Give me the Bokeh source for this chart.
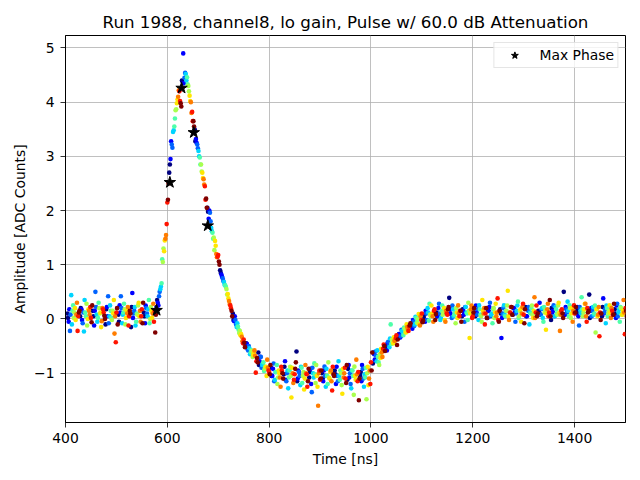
import numpy as np
from bokeh.plotting import figure
from bokeh.models import ColumnDataSource, FixedTicker, Range1d
from bokeh.embed import file_html
from bokeh.resources import INLINE

# ---------------- data ----------------
title_text = "Run 1988, channel8, lo gain, Pulse w/ 60.0 dB Attenuation"
x_label = "Time [ns]"
y_label = "Amplitude [ADC Counts]"
x_ticks = [400, 600, 800, 1000, 1200, 1400]
y_ticks = [-1, 0, 1, 2, 3, 4, 5]

first_sample_ns = 403.75   # time of phase 0 in the first 25 ns sample
sample_period_ns = 25.0
phase_step_ns = 2.5
n_phases = 10
event_b_shift_ns = 1.25

# amplitude [ADC counts]; one row per 25 ns sample, one column per phase (event A)
pre_pulse = [
    [0.10, -0.05, -0.22, 0.44, 0.15, 0.02, 0.20, 0.08, -0.22, 0.12],
    [0.05, 0.18, -0.08, -0.23, 0.12, 0.28, 0.00, 0.15, 0.22, -0.06],
    [0.15, -0.12, 0.50, 0.08, 0.02, 0.20, 0.12, -0.04, 0.18, 0.06],
    [-0.10, 0.22, 0.42, 0.05, 0.15, -0.02, 0.10, -0.27, -0.43, 0.20],
    [0.08, 0.25, 0.42, -0.08, 0.12, 0.18, 0.02, 0.10, -0.12, 0.15],
    [-0.15, 0.48, 0.10, 0.22, -0.05, 0.08, 0.30, 0.15, 0.05, -0.08],
    [0.12, -0.08, 0.20, 0.05, 0.35, 0.00, 0.15, 0.10, -0.05, -0.25],
]
pulse = [
    [0.22, 0.30, 0.42, 0.55, 0.66, 1.05, 1.25, 1.48, 1.75, 2.20],
    [2.70, 2.95, 3.22, 3.45, 3.55, 3.85, 3.98, 4.10, 4.20, 3.98],
    [4.40, 4.90, 4.45, 4.52, 4.46, 4.30, 4.12, 4.00, 3.82, 3.65],
    [3.50, 3.32, 3.22, 3.10, 2.98, 2.85, 2.70, 2.58, 2.45, 2.22],
    [2.05, 1.85, 1.96, 1.68, 1.59, 1.50, 1.44, 1.20, 1.15, 1.06],
    [0.90, 0.82, 0.75, 0.68, 0.62, 0.55, 0.46, 0.33, 0.25, 0.15],
    [0.10, -0.04, -0.02, -0.15, -0.14, -0.26, -0.30, -0.33, -0.45, -0.44],
    [-0.50, -0.46, -0.58, -0.54, -0.62, -0.59, -0.66, -0.58, -0.99, -0.72],
    [-0.62, -0.78, -0.70, -0.85, -0.80, -0.92, -0.88, -0.75, -0.95, -1.02],
]
trough = [
    [-0.90, -1.05, -0.82, -1.12, -0.98, -1.20, -0.95, -1.08, -0.88, -1.00],
    [-1.02, -0.78, -1.15, -0.95, -1.08, -0.88, -1.45, -1.00, -1.12, -0.92],
    [-0.60, -1.10, -0.98, -1.22, -0.90, -1.05, -1.30, -0.85, -1.02, -1.15],
    [-1.08, -0.92, -1.35, -1.00, -0.82, -1.18, -1.05, -1.60, -0.95, -1.10],
    [-1.00, -1.15, -0.88, -1.25, -1.05, -0.80, -1.10, -0.95, -1.32, -1.02],
    [-0.95, -1.20, -1.05, -0.78, -1.12, -1.00, -1.38, -1.08, -0.90, -1.18],
    [-1.12, -0.85, -1.00, -1.28, -0.95, -1.40, -1.05, -0.75, -1.15, -1.50],
    [-1.05, -1.15, -0.92, -1.25, -1.08, -1.48, -0.88, -1.10, -1.20, -0.95],
]
recovery = [
    [-0.82, -0.65, -0.60, -0.78, -0.70, -0.85, -0.72, -0.62, -0.55, -0.50],
    [-0.48, -0.58, -0.42, -0.52, -0.10, -0.38, -0.45, -0.40, -0.35, -0.48],
    [-0.35, -0.28, -0.32, -0.22, -0.30, -0.18, -0.25, -0.15, -0.22, -0.12],
    [-0.12, -0.18, -0.05, -0.10, 0.02, -0.08, 0.09, -0.12, -0.02, -0.06],
    [0.02, -0.05, 0.10, 0.20, -0.03, 0.08, 0.25, 0.05, 0.15, -0.02],
    [0.12, 0.05, 0.28, -0.02, 0.15, 0.08, 0.20, -0.05, 0.10, 0.18],
    [0.39, 0.10, 0.02, 0.18, 0.08, -0.08, 0.12, 0.25, 0.05, 0.15],
]
post_pulse = [
    [0.05, 0.15, -0.05, 0.22, 0.10, 0.30, -0.35, 0.18, 0.02, 0.12],
    [0.12, 0.25, 0.08, -0.02, 0.18, 0.05, 0.35, 0.10, -0.10, 0.20],
    [0.02, 0.15, 0.30, 0.08, -0.08, 0.20, 0.12, 0.05, 0.38, -0.05],
    [0.18, -0.35, 0.10, 0.25, 0.05, 0.15, 0.52, -0.02, 0.12, 0.22],
    [0.08, 0.20, -0.05, 0.15, 0.32, 0.05, 0.18, 0.10, 0.28, -0.08],
    [0.22, 0.05, 0.15, -0.10, 0.10, 0.25, 0.02, 0.40, 0.12, 0.05],
    [0.15, 0.30, 0.08, 0.20, -0.05, 0.12, -0.20, 0.18, 0.05, 0.35],
    [-0.02, 0.12, 0.25, 0.05, 0.18, 0.08, 0.30, -0.22, 0.15, 0.10],
    [0.50, 0.08, 0.18, 0.32, 0.05, 0.20, 0.10, -0.05, 0.25, 0.12],
    [0.10, 0.22, -0.12, 0.15, 0.40, 0.05, 0.18, 0.28, -0.05, 0.12],
    [0.45, 0.15, 0.05, 0.22, 0.10, -0.25, 0.18, 0.08, -0.32, -0.02],
    [0.05, 0.38, 0.12, -0.08, 0.20, 0.10, 0.25, 0.02, 0.15, 0.08],
    [0.18, 0.02, 0.28, 0.12, -0.05, 0.20, 0.08, 0.35, -0.28, 0.15],
]

# second event, sampled 1.25 ns later than event A
pre_pulse_b = [
    [0.02, 0.18, 0.08, -0.10, 0.25, 0.12, -0.02, 0.30, 0.05, 0.15],
    [0.20, -0.02, 0.12, 0.35, 0.05, -0.12, 0.18, 0.08, 0.02, 0.25],
    [0.05, 0.15, 0.22, -0.05, 0.30, 0.10, -0.15, 0.20, 0.12, 0.00],
    [0.18, 0.05, -0.08, 0.25, 0.02, 0.15, 0.35, 0.05, 0.12, -0.10],
    [-0.05, 0.12, 0.20, 0.08, 0.28, -0.10, 0.15, 0.22, 0.05, 0.10],
    [0.22, 0.02, 0.15, -0.12, 0.10, 0.25, 0.05, -0.05, 0.18, 0.30],
    [0.05, 0.25, 0.10, 0.18, -0.08, 0.22, 0.02, 0.28, 0.15, 0.08],
]
pulse_b = [
    [0.35, 0.25, 0.50, 0.60, 1.10, 1.30, 1.45, 1.55, 2.15, 2.50],
    [2.85, 3.28, 3.16, 3.48, 3.70, 3.87, 4.05, 4.22, 4.02, 3.92],
    [4.38, 4.35, 4.54, 4.40, 4.33, 4.20, 4.02, 3.80, 3.65, 3.55],
    [3.28, 3.25, 3.15, 3.00, 2.85, 2.72, 2.60, 2.48, 2.20, 2.05],
    [1.98, 2.00, 1.80, 1.62, 1.48, 1.27, 1.35, 1.14, 1.18, 1.00],
    [0.85, 0.78, 0.70, 0.63, 0.59, 0.45, 0.38, 0.27, 0.20, 0.05],
    [-0.02, 0.05, -0.10, -0.08, -0.20, -0.22, -0.28, -0.41, -0.38, -0.52],
    [-0.45, -0.55, -0.50, -0.65, -0.58, -0.70, -0.62, -0.68, -0.78, -0.80],
    [-0.85, -0.70, -0.90, -0.82, -0.96, -0.88, -1.05, -0.90, -0.98, -0.85],
]
trough_b = [
    [-1.05, -0.92, -1.15, -0.98, -0.85, -1.08, -1.00, -1.25, -0.95, -1.10],
    [-0.88, -1.12, -1.00, -1.28, -0.95, -1.05, -0.90, -1.18, -1.02, -0.80],
    [-1.15, -0.95, -1.05, -0.88, -1.18, -0.98, -1.10, -1.00, -1.25, -0.92],
    [-0.98, -1.20, -0.90, -1.08, -1.02, -0.85, -1.25, -1.00, -1.12, -0.95],
    [-1.10, -0.95, -1.05, -0.92, -1.20, -1.08, -0.98, -1.15, -0.88, -1.05],
    [-1.02, -0.88, -1.15, -1.05, -0.95, -1.22, -0.92, -1.00, -1.10, -0.85],
    [-0.92, -1.08, -1.20, -0.95, -1.05, -0.88, -1.12, -1.02, -0.98, -1.10],
    [-0.98, -0.85, -1.10, -1.02, -0.90, -1.00, -1.22, -0.95, -0.80, -0.62],
]
recovery_b = [
    [-0.62, -0.75, -0.68, -0.58, -0.80, -0.65, -0.55, -0.70, -0.47, -0.59],
    [-0.55, -0.45, -0.50, -0.36, -0.46, -0.42, -0.34, -0.40, -0.30, -0.38],
    [-0.28, -0.34, -0.20, -0.25, -0.16, -0.24, -0.10, -0.20, -0.14, -0.08],
    [-0.08, -0.02, -0.13, 0.04, -0.06, 0.00, -0.10, 0.05, 0.10, -0.03],
    [0.08, 0.15, -0.02, 0.12, 0.28, 0.05, 0.10, -0.05, 0.18, 0.09],
    [0.05, 0.20, 0.10, 0.02, 0.25, 0.12, -0.02, 0.15, 0.08, 0.22],
    [0.10, 0.18, 0.25, 0.05, 0.12, 0.20, 0.02, 0.10, 0.15, -0.05],
]
post_pulse_b = [
    [0.18, 0.08, 0.22, 0.12, -0.02, 0.15, 0.10, 0.25, 0.05, 0.20],
    [0.05, 0.12, 0.18, 0.25, 0.08, -0.05, 0.15, 0.20, 0.10, 0.02],
    [0.15, 0.22, 0.05, 0.10, 0.18, 0.02, 0.28, 0.12, -0.02, 0.15],
    [0.10, 0.02, 0.20, 0.08, 0.15, 0.25, 0.05, 0.12, 0.22, 0.08],
    [0.20, 0.12, 0.10, 0.25, 0.02, 0.15, -0.05, 0.22, 0.08, 0.18],
    [0.05, 0.18, 0.22, 0.12, 0.20, 0.08, 0.15, 0.02, 0.25, 0.10],
    [0.12, 0.08, 0.18, 0.02, 0.22, 0.15, 0.10, 0.28, 0.12, 0.05],
    [0.20, 0.15, 0.05, 0.22, 0.10, 0.25, 0.12, 0.08, 0.18, 0.02],
    [0.08, 0.22, 0.12, 0.15, 0.25, 0.02, 0.20, 0.15, 0.10, 0.22],
    [0.15, 0.05, 0.22, 0.10, 0.18, 0.12, 0.28, 0.05, 0.20, 0.15],
    [0.02, 0.20, 0.15, 0.08, 0.25, 0.18, 0.05, 0.22, 0.12, 0.10],
    [0.22, 0.10, 0.18, 0.25, 0.05, 0.15, 0.12, 0.20, 0.08, 0.28],
    [0.10, 0.25, 0.05, 0.18, 0.22, 0.08, 0.15, 0.12, 0.20, 0.05],
]

max_phase_time = [579.0, 605.0, 628.0, 652.0, 679.5]
max_phase_amp = [0.16, 2.52, 4.26, 3.44, 1.72]


# ---------------- helpers ----------------
def jet(v):
    r = np.interp(v, [0, 0.35, 0.66, 0.89, 1], [0, 0, 1, 1, 0.5])
    g = np.interp(v, [0, 0.125, 0.375, 0.64, 0.91, 1], [0, 0, 1, 1, 0, 0])
    b = np.interp(v, [0, 0.11, 0.34, 0.65, 1], [0.5, 1, 1, 0, 0])
    return "#%02x%02x%02x" % (int(round(r * 255)), int(round(g * 255)), int(round(b * 255)))


xs, ys, cs = [], [], []
events = [
    (pre_pulse + pulse + trough + recovery + post_pulse, 0.0),
    (pre_pulse_b + pulse_b + trough_b + recovery_b + post_pulse_b, event_b_shift_ns),
]
for ph in range(n_phases):
    for rows, shift in events:
        for k, row in enumerate(rows):
            xs.append(first_sample_ns + shift + k * sample_period_ns + ph * phase_step_ns)
            ys.append(row[ph])
            cs.append(jet(ph / (n_phases - 1)))

src = ColumnDataSource(dict(x=xs, y=ys, c=cs))
star_src = ColumnDataSource(dict(x=max_phase_time, y=max_phase_amp))

FONT = "DejaVu Sans"

p = figure(
    frame_width=560, frame_height=387,
    min_border_left=65, min_border_right=7, min_border_top=35, min_border_bottom=50,
    x_range=Range1d(400, 1500), y_range=Range1d(-1.91, 5.23),
    output_backend="svg", toolbar_location=None,
    title=title_text,
)
p.background_fill_color = "white"
p.border_fill_color = "white"
p.outline_line_color = "black"
p.outline_line_width = 1

p.title.align = "center"
p.title.text_font = FONT
p.title.text_font_size = "16.7px"
p.title.text_font_style = "normal"
p.title.text_color = "black"
p.title.standoff = 8

p.scatter("x", "y", source=src, size=4.6, fill_color="c", line_color=None)
p.scatter("x", "y", source=star_src, marker="star", size=12,
          fill_color="black", line_color="black", legend_label="Max Phase")

for ax in (p.xaxis[0], p.yaxis[0]):
    ax.axis_line_color = "black"
    ax.axis_line_width = 1
    ax.major_tick_line_color = "black"
    ax.major_tick_line_width = 0.8
    ax.major_tick_out = 5
    ax.major_tick_in = 0
    ax.minor_tick_line_color = None
    ax.major_label_text_font = FONT
    ax.major_label_text_font_size = "13.9px"
    ax.major_label_text_color = "black"
    ax.axis_label_text_font = FONT
    ax.axis_label_text_font_size = "13.9px"
    ax.axis_label_text_font_style = "normal"
    ax.axis_label_text_color = "black"

p.xaxis.ticker = FixedTicker(ticks=x_ticks)
p.yaxis.ticker = FixedTicker(ticks=y_ticks)
p.yaxis.major_label_overrides = {t: str(t).replace("-", "\u2212") for t in y_ticks}
p.xaxis.axis_label = x_label
p.yaxis.axis_label = y_label
p.xaxis.major_label_standoff = 5
p.yaxis.major_label_standoff = 6
p.xaxis.axis_label_standoff = 5
p.yaxis.axis_label_standoff = 3

p.grid.grid_line_color = "#b0b0b0"
p.grid.grid_line_width = 0.8

lg = p.legend[0]
lg.location = "top_right"
lg.margin = 7
lg.padding = 3
lg.spacing = 0
lg.glyph_width = 34
lg.glyph_height = 18
lg.label_height = 18
lg.label_standoff = 8
lg.label_text_font = FONT
lg.label_text_font_size = "13.9px"
lg.label_text_color = "black"
lg.border_line_color = "#cccccc"
lg.border_line_width = 1
lg.background_fill_alpha = 0.8

open("out.html", "w").write(file_html(p, INLINE))
